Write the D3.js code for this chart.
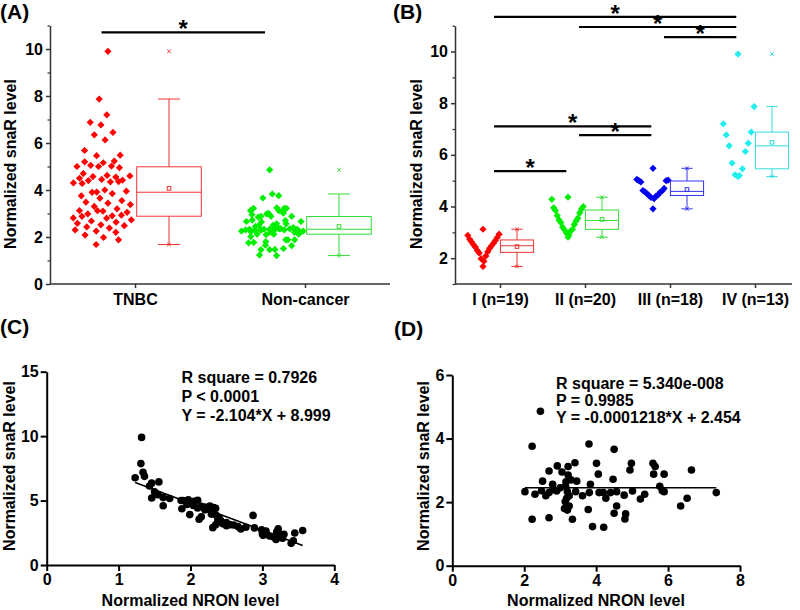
<!DOCTYPE html>
<html>
<head>
<meta charset="utf-8">
<script src="https://cdn.jsdelivr.net/npm/d3@7"></script>
<style>
  body { margin: 0; background: #fff; }
  svg { display: block; font-family: 'Liberation Sans', Arial, sans-serif; font-weight: bold; }
</style>
</head>
<body>
<div id="chart"></div>
<script>
// categories
const groupLabels = ["TNBC", "Non-cancer"];
const stageLabels = ["I (n=19)", "II (n=20)", "III (n=18)", "IV (n=13)"];

// snaR level of TNBC samples, split by stage, with matching NRON level
const stageI = [1.68, 1.88, 1.98, 2.08, 2.20, 2.25, 2.30, 2.38, 2.43, 2.48, 2.52, 2.58, 2.63, 2.68, 2.73, 2.80, 2.88, 2.93, 3.12];
const nronI = [3.40, 3.43, 3.19, 3.28, 3.15, 3.10, 3.01, 3.30, 3.00, 3.45, 3.22, 3.20, 3.05, 3.56, 2.99, 2.70, 2.89, 2.77, 2.35];
const stageII = [2.81, 2.90, 2.98, 3.05, 3.10, 3.12, 3.20, 3.30, 3.38, 3.44, 3.48, 3.55, 3.65, 3.75, 3.85, 3.90, 3.95, 4.00, 4.28, 4.36];
const nronII = [3.22, 2.31, 2.66, 2.50, 2.60, 2.55, 2.45, 2.50, 2.41, 2.42, 2.38, 2.12, 2.40, 2.15, 2.87, 2.35, 2.29, 2.30, 2.20, 1.88];
const stageIII = [3.91, 4.30, 4.35, 4.40, 4.42, 4.45, 4.50, 4.55, 4.57, 4.60, 4.62, 4.70, 4.95, 5.00, 5.00, 5.02, 5.05, 5.48];
const nronIII = [1.99, 2.30, 2.25, 2.35, 2.10, 2.32, 2.20, 2.15, 2.27, 1.62, 2.04, 1.95, 2.05, 1.90, 1.87, 2.10, 1.97, 1.52];
const stageIV = [5.16, 5.20, 5.23, 5.46, 5.68, 6.13, 6.35, 6.45, 6.77, 6.88, 7.20, 7.87, 9.90];
const nronIV = [1.71, 1.46, 1.62, 1.55, 1.50, 1.43, 1.46, 1.56, 1.23, 1.36, 1.34, 1.31, 1.32];

// non-cancer samples: snaR level and NRON level
const nonCancer = [4.86, 3.76, 3.83, 3.66, 3.14, 2.98, 3.12, 3.24, 2.85, 3.22, 2.88, 2.66, 2.56, 2.64, 2.66, 2.56, 2.72, 3.22, 3.01, 3.22,
  3.12, 2.88, 2.88, 2.50, 2.33, 3.01, 2.33, 2.25, 2.36, 2.30, 2.40, 2.33, 2.30, 2.30, 2.30, 2.12, 2.33, 2.22, 2.35, 2.10,
  2.25, 2.36, 2.12, 1.88, 2.30, 1.77, 1.88, 1.65, 1.63, 1.47, 1.46, 1.51, 1.46, 1.23, 1.21, 2.50, 2.33, 2.12, 2.02, 1.88,
  1.80, 1.75, 2.35, 2.45, 2.20, 2.20, 2.95, 2.70, 2.30, 2.20];
const nronNonCancer = [2.45, 2.22, 3.80, 4.50, 2.92, 2.69, 3.22, 3.41, 3.22, 4.01, 4.06, 2.51, 2.79, 3.16, 3.46, 3.84, 4.47, 4.98, 4.94, 5.58,
  5.64, 5.60, 5.89, 5.77, 5.89, 6.65, 2.02, 2.30, 2.48, 2.69, 2.80, 3.43, 3.81, 4.08, 4.20, 4.27, 4.57, 4.78, 5.01, 5.23,
  5.35, 5.84, 6.53, 6.35, 7.34, 3.78, 4.57, 4.50, 4.82, 4.80, 2.22, 2.69, 3.34, 3.90, 4.21, 3.15, 3.20, 3.18, 3.14, 3.25,
  3.12, 3.20, 2.90, 3.00, 3.62, 2.60, 3.05, 3.30, 4.40, 3.25];

// ticks
const yTicksA = [0, 2, 4, 6, 8, 10];
const yMinorA = [1, 3, 5, 7, 9, 11];
const yTicksB = [2, 4, 6, 8, 10];
const yMinorB = [1, 3, 5, 7, 9, 11];
const xTicksC = [0, 1, 2, 3, 4];
const yTicksC = [0, 5, 10, 15];
const xTicksD = [0, 2, 4, 6, 8];
const yTicksD = [0, 2, 4, 6];

// significance comparisons [from, to, level]
const sigA = [[0, 1, 10.71]];
const sigB = [[0, 3, 11.34], [1, 3, 10.95], [2, 3, 10.56], [0, 2, 7.10], [1, 2, 6.76], [0, 1, 5.37]];

// linear fits [slope, intercept] and their text
const fitC = [-2.104, 8.999];
const fitD = [-0.0001218, 2.454];
const statsC = ["R square = 0.7926", "P < 0.0001", "Y = -2.104*X + 8.999"];
const statsD = ["R square = 5.340e-008", "P = 0.9985", "Y = -0.0001218*X + 2.454"];

const tnbc = stageI.concat(stageII, stageIII, stageIV);
const nronTNBC = nronI.concat(nronII, nronIII, nronIV);

const svg = d3.select('#chart').append('svg').attr('width', 800).attr('height', 610);

const groupColors = ['#ff0000', '#00ee00'];
const groupBoxColors = ['#ee3333', '#33dd33'];
const stageColors = ['#ff0000', '#00ee00', '#0000ee', '#22eeee'];
const stageBoxColors = ['#ee3333', '#33dd33', '#3333ee', '#33dddd'];

function boxStats(vals) {
  const s = vals.slice().sort(d3.ascending);
  const q1 = d3.quantileSorted(s, 0.25), med = d3.quantileSorted(s, 0.5), q3 = d3.quantileSorted(s, 0.75);
  const iqr = q3 - q1;
  return {
    q1, med, q3,
    lo: d3.min(s.filter(v => v >= q1 - 1.5 * iqr)),
    hi: d3.max(s.filter(v => v <= q3 + 1.5 * iqr)),
    mean: d3.mean(s), min: s[0], max: s[s.length - 1]
  };
}

function drawBox(g, y, vals, cx, w, color) {
  const st = boxStats(vals);
  const cap = w * 0.17;
  const b = g.append('g').attr('stroke', color).attr('fill', 'none').attr('stroke-width', 1);
  b.append('rect').attr('x', cx - w / 2).attr('y', y(st.q3)).attr('width', w).attr('height', y(st.q1) - y(st.q3));
  b.append('line').attr('x1', cx - w / 2).attr('x2', cx + w / 2).attr('y1', y(st.med)).attr('y2', y(st.med));
  b.append('line').attr('x1', cx).attr('x2', cx).attr('y1', y(st.q3)).attr('y2', y(st.hi));
  b.append('line').attr('x1', cx).attr('x2', cx).attr('y1', y(st.q1)).attr('y2', y(st.lo));
  [st.hi, st.lo].forEach(v => b.append('line').attr('x1', cx - cap).attr('x2', cx + cap).attr('y1', y(v)).attr('y2', y(v)));
  b.append('rect').attr('x', cx - 1.8).attr('y', y(st.mean) - 1.8).attr('width', 3.6).attr('height', 3.6);
  [st.min, st.max].forEach(v => {
    b.append('path').attr('d', `M${cx - 1.8},${y(v) - 1.8}L${cx + 1.8},${y(v) + 1.8}M${cx - 1.8},${y(v) + 1.8}L${cx + 1.8},${y(v) - 1.8}`);
  });
}

function diamonds(g, pts, color) {
  g.selectAll(null).data(pts).join('path')
    .attr('d', d3.symbol(d3.symbolSquare, 26)())
    .attr('transform', d => `translate(${d[0]},${d[1]}) rotate(45)`)
    .attr('fill', color);
}

// jitter spread scaled by how crowded each value is
function densityJitter(vals) {
  const counts = vals.map(v => vals.filter(w => Math.abs(w - v) <= 0.5).length);
  const maxC = d3.max(counts);
  return vals.map((v, i) => (((i + 0.5) * 0.618034) % 1 * 2 - 1) * Math.sqrt(counts[i] / maxC));
}

// V shaped layout: sorted values alternate sides, spread grows with rank,
// the single highest value sits on the centre line
function vLayout(vals) {
  const n = vals.length;
  const order = d3.range(n).sort((a, b) => vals[a] - vals[b]);
  const out = new Array(n);
  order.forEach((idx, r) => {
    out[idx] = r === n - 1 ? 0 : (r % 2 === 0 ? -1 : 1) * r / (n - 2);
  });
  return out;
}

function styleText(g, size) {
  g.attr('font-family', "'Liberation Sans', Arial, sans-serif").attr('font-size', size).attr('font-weight', 'bold');
  g.selectAll('text').attr('fill', '#000');
}

function originAxes(g, x, y, yTicks, yMinor, xStart, xEnd) {
  const ya = g.append('g').attr('transform', `translate(${xStart},0)`)
    .call(d3.axisLeft(y).tickValues(yTicks).tickFormat(d3.format('d')).tickSize(4).tickPadding(3).tickSizeOuter(0));
  ya.select('.domain').attr('stroke', '#333').attr('stroke-width', 1.5);
  ya.selectAll('.tick line').attr('stroke', '#333').attr('stroke-width', 1.5);
  styleText(ya, 16);
  const ym = g.append('g').attr('transform', `translate(${xStart},0)`)
    .call(d3.axisLeft(y).tickValues(yMinor).tickSize(2.5).tickFormat(''));
  ym.select('.domain').remove();
  ym.selectAll('.tick line').attr('stroke', '#333').attr('stroke-width', 1.2);
  const y0 = y.range()[0];
  const xa = g.append('g').attr('transform', `translate(0,${y0})`)
    .call(d3.axisBottom(x).tickSize(4).tickPadding(6));
  xa.select('.domain').remove();
  xa.selectAll('.tick line').attr('stroke', '#333').attr('stroke-width', 1.5);
  styleText(xa, 16);
  g.append('line').attr('x1', xStart).attr('x2', xEnd).attr('y1', y0).attr('y2', y0)
    .attr('stroke', '#333').attr('stroke-width', 1.5);
}

function sigBars(g, x, y, list, startOff, endOff, step) {
  const dom = x.domain();
  list.forEach(([i, j, lvl]) => {
    const x1 = x(dom[i]) + startOff * step, x2 = x(dom[j]) + endOff * step;
    g.append('line').attr('x1', x1).attr('x2', x2).attr('y1', y(lvl)).attr('y2', y(lvl))
      .attr('stroke', '#000').attr('stroke-width', 2.2);
    g.append('text').attr('x', (x1 + x2) / 2).attr('y', y(lvl) + 5).attr('text-anchor', 'middle')
      .attr('font-size', 24).attr('font-weight', 'bold').text('*');
  });
}

function label(text, x, y, size, rotate, anchor) {
  svg.append('text')
    .attr('transform', `translate(${x},${y})` + (rotate ? ' rotate(-90)' : ''))
    .attr('text-anchor', anchor || 'middle').attr('font-size', size).attr('font-weight', 'bold')
    .text(text);
}

// ---------- (A) ----------
const gA = svg.append('g');
const xA = d3.scalePoint().domain(groupLabels).range([135, 305]);
const stepA = 170;
const yA = d3.scaleLinear().domain([0, 11]).range([284, 25.5]);
originAxes(gA, xA, yA, yTicksA, yMinorA, 50, 390);
[tnbc, nonCancer].forEach((vals, k) => {
  const tick = xA(groupLabels[k]);
  const jit = densityJitter(vals);
  diamonds(gA, vals.map((v, i) => [tick - 0.197 * stepA + jit[i] * 0.19 * stepA, yA(v)]), groupColors[k]);
  drawBox(gA, yA, vals, tick + 0.2 * stepA, 0.38 * stepA, groupBoxColors[k]);
});
sigBars(gA, xA, yA, sigA, -0.197, -0.235, stepA);
label('(A)', 0, 19, 21, false, 'start');
label('Normalized snaR level', 16, 164, 16, true);

// ---------- (B) ----------
const gB = svg.append('g');
const xB = d3.scalePoint().domain(stageLabels).range([500, 755]);
const stepB = xB.step();
const yB = d3.scaleLinear().domain([1, 11]).range([284, 25.7]);
originAxes(gB, xB, yB, yTicksB, yMinorB, 455, 792);
[stageI, stageII, stageIII, stageIV].forEach((vals, k) => {
  const tick = xB(stageLabels[k]);
  const off = vLayout(vals);
  diamonds(gB, vals.map((v, i) => [tick - 0.2 * stepB + off[i] * 0.19 * stepB, yB(v)]), stageColors[k]);
  drawBox(gB, yB, vals, tick + 0.2 * stepB, 0.39 * stepB, stageBoxColors[k]);
});
sigBars(gB, xB, yB, sigB, -0.07, -0.22, stepB);
label('(B)', 393, 19, 21, false, 'start');
label('Normalized snaR level', 422, 164, 16, true);

// ---------- scatter panels ----------
function scatterPanel(xs, ys, x, y, xTicks, yTicks, fit, stats, statX, statY) {
  const g = svg.append('g');
  const xa = g.append('g').attr('transform', `translate(0,${y.range()[0]})`)
    .call(d3.axisBottom(x).tickValues(xTicks).tickFormat(d3.format('d')).tickSize(6).tickPadding(3).tickSizeOuter(0));
  const ya = g.append('g').attr('transform', `translate(${x.range()[0]},0)`)
    .call(d3.axisLeft(y).tickValues(yTicks).tickFormat(d3.format('d')).tickSize(6).tickPadding(2).tickSizeOuter(0));
  [xa, ya].forEach(a => {
    a.select('.domain').attr('stroke', '#000').attr('stroke-width', 2);
    a.selectAll('.tick line').attr('stroke', '#000').attr('stroke-width', 2);
    styleText(a, 16);
  });
  g.selectAll(null).data(xs).join('circle')
    .attr('cx', d => x(d)).attr('cy', (d, i) => y(ys[i])).attr('r', 3.8).attr('fill', '#000');
  const [x0, x1] = d3.extent(xs);
  g.append('line').attr('x1', x(x0)).attr('x2', x(x1))
    .attr('y1', y(fit[0] * x0 + fit[1])).attr('y2', y(fit[0] * x1 + fit[1]))
    .attr('stroke', '#000').attr('stroke-width', 1.6);
  stats.forEach((s, i) => {
    g.append('text').attr('x', statX).attr('y', statY[i]).attr('font-size', 16).attr('font-weight', 'bold').text(s);
  });
}

// ---------- (C) ----------
const xC = d3.scaleLinear().domain([0, 4]).range([46.7, 334.3]);
const yC = d3.scaleLinear().domain([0, 15]).range([565, 371.7]);
scatterPanel(nronTNBC, tnbc, xC, yC, xTicksC, yTicksC, fitC, statsC, 181.5, [383, 402, 421]);
label('(C)', 0, 334, 21, false, 'start');
label('Normalized snaR level', 15, 466, 16, true);
label('Normalized NRON level', 190.5, 606, 16, false);

// ---------- (D) ----------
const xD = d3.scaleLinear().domain([0, 8]).range([452.3, 740]);
const yD = d3.scaleLinear().domain([0, 6]).range([565.7, 375]);
scatterPanel(nronNonCancer, nonCancer, xD, yD, xTicksD, yTicksD, fitD, statsD, 556, [389, 406, 423]);
label('(D)', 394, 336, 21, false, 'start');
label('Normalized snaR level', 429, 466, 16, true);
label('Normalized NRON level', 596, 606, 16, false);
</script>
</body>
</html>
